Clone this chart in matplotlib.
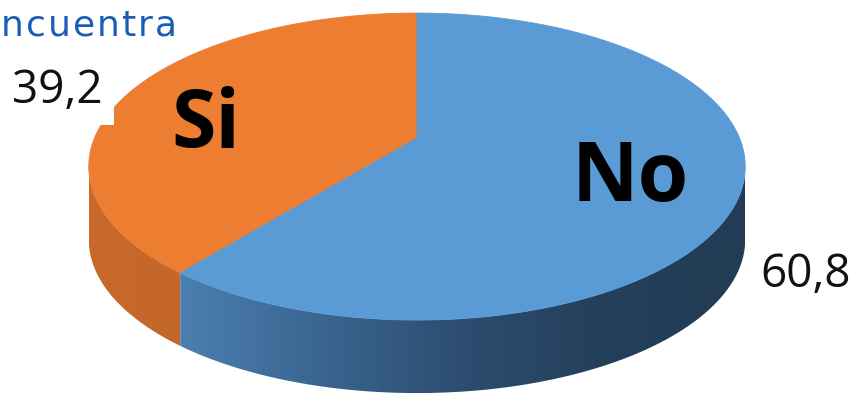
import numpy as np
import matplotlib
matplotlib.use("Agg")
import matplotlib.pyplot as plt
from matplotlib.patches import Polygon
from matplotlib.colors import LinearSegmentedColormap
from matplotlib.font_manager import FontProperties

# Survey answers (percent)
categories = ["Si", "No"]
values = [39.2, 60.8]
value_labels = ["39,2", "60,8"]
header_text = "ncuentra"

top_colors = ["#ED7D31", "#5B9BD5"]
side_colors = [["#C9692A", "#C4672A"],
               ["#4B7FAF", "#3A6590", "#2C4D70", "#243F5A", "#223C55"]]

W, H = 855, 398
DPI = 100
fig = plt.figure(figsize=(W / DPI, H / DPI), dpi=DPI)
ax = fig.add_axes([0, 0, 1, 1])
ax.set_xlim(0, W)
ax.set_ylim(H, 0)
ax.axis("off")

# Tilted disc geometry (pixel space, with a little perspective)
cx, cy = 417, 138
B, A, k = 322.5, 148.2, 0.186
depth = 73


def rim(phi_deg):
    p = np.radians(np.asarray(phi_deg, dtype=float))
    u, v = np.cos(p), -np.sin(p)
    s = 1.0 / (1.0 - k * v)
    return cx + B * u * s, cy + A * v * s


# visible front side spans between the horizontal extremes of the rim
probe = np.linspace(150, 390, 4801)
px, _ = rim(probe)
phi_left = probe[np.argmin(px)]
phi_right = probe[np.argmax(px)]

fractions = np.array(values) / np.sum(values)
starts = 90 + 360 * np.concatenate([[0], np.cumsum(fractions)[:-1]])
ends = starts + 360 * fractions

# sides
for i in range(len(values)):
    a0 = max(starts[i], phi_left)
    a1 = min(ends[i], phi_right)
    if a1 <= a0:
        continue
    t = np.linspace(a0, a1, 200)
    x, y = rim(t)
    pts = np.vstack([np.column_stack([x, y]),
                     np.column_stack([x[::-1], y[::-1] + depth])])
    poly = Polygon(pts, closed=True, facecolor="none", edgecolor="none")
    ax.add_patch(poly)
    cmap = LinearSegmentedColormap.from_list("side%d" % i, side_colors[i])
    grad = np.linspace(0, 1, 256)[None, :]
    im = ax.imshow(grad, cmap=cmap, aspect="auto",
                   extent=[x.min(), x.max(), y.max() + depth, y.min()],
                   zorder=1, interpolation="bilinear")
    im.set_clip_path(poly)

# top faces
for i in range(len(values)):
    t = np.linspace(starts[i], ends[i], 400)
    x, y = rim(t)
    pts = np.vstack([[cx, cy], np.column_stack([x, y])])
    ax.add_patch(Polygon(pts, closed=True, facecolor=top_colors[i],
                         edgecolor=top_colors[i], linewidth=0.6, zorder=2))

ax.set_xlim(0, W)
ax.set_ylim(H, 0)

# category names on the slices
ax.text(206, 126, categories[0], fontsize=58, fontweight="bold",
        family="Open Sans", color="black", ha="center", va="center", zorder=5)
ax.text(630, 180, categories[1], fontsize=59, fontweight="bold",
        family="Open Sans", color="black", ha="center", va="center", zorder=5)

# value labels
ax.text(12, 103, value_labels[0], fontsize=33, family="Open Sans",
        color="#111111", ha="left", va="baseline", zorder=6,
        bbox=dict(boxstyle="square,pad=0.25", fc="white", ec="none"))
ax.text(760, 287, value_labels[1], fontsize=33, family="Open Sans",
        color="#111111", ha="left", va="baseline", zorder=6)

# heading fragment, letter-spaced
renderer = fig.canvas.get_renderer()
head_prop = FontProperties(family="DejaVu Sans", size=26)
tracking = 2.0


def text_width(s):
    if not s:
        return 0.0
    w, _, _ = renderer.get_text_width_height_descent(s, head_prop, ismath=False)
    return w


for i, ch in enumerate(header_text):
    xpos = 1.0 + text_width(header_text[:i]) + tracking * i
    ax.text(xpos, 36, ch, fontproperties=head_prop,
            color="#1A5DB5", ha="left", va="baseline", zorder=6)

fig.savefig("out.png", dpi=DPI)
